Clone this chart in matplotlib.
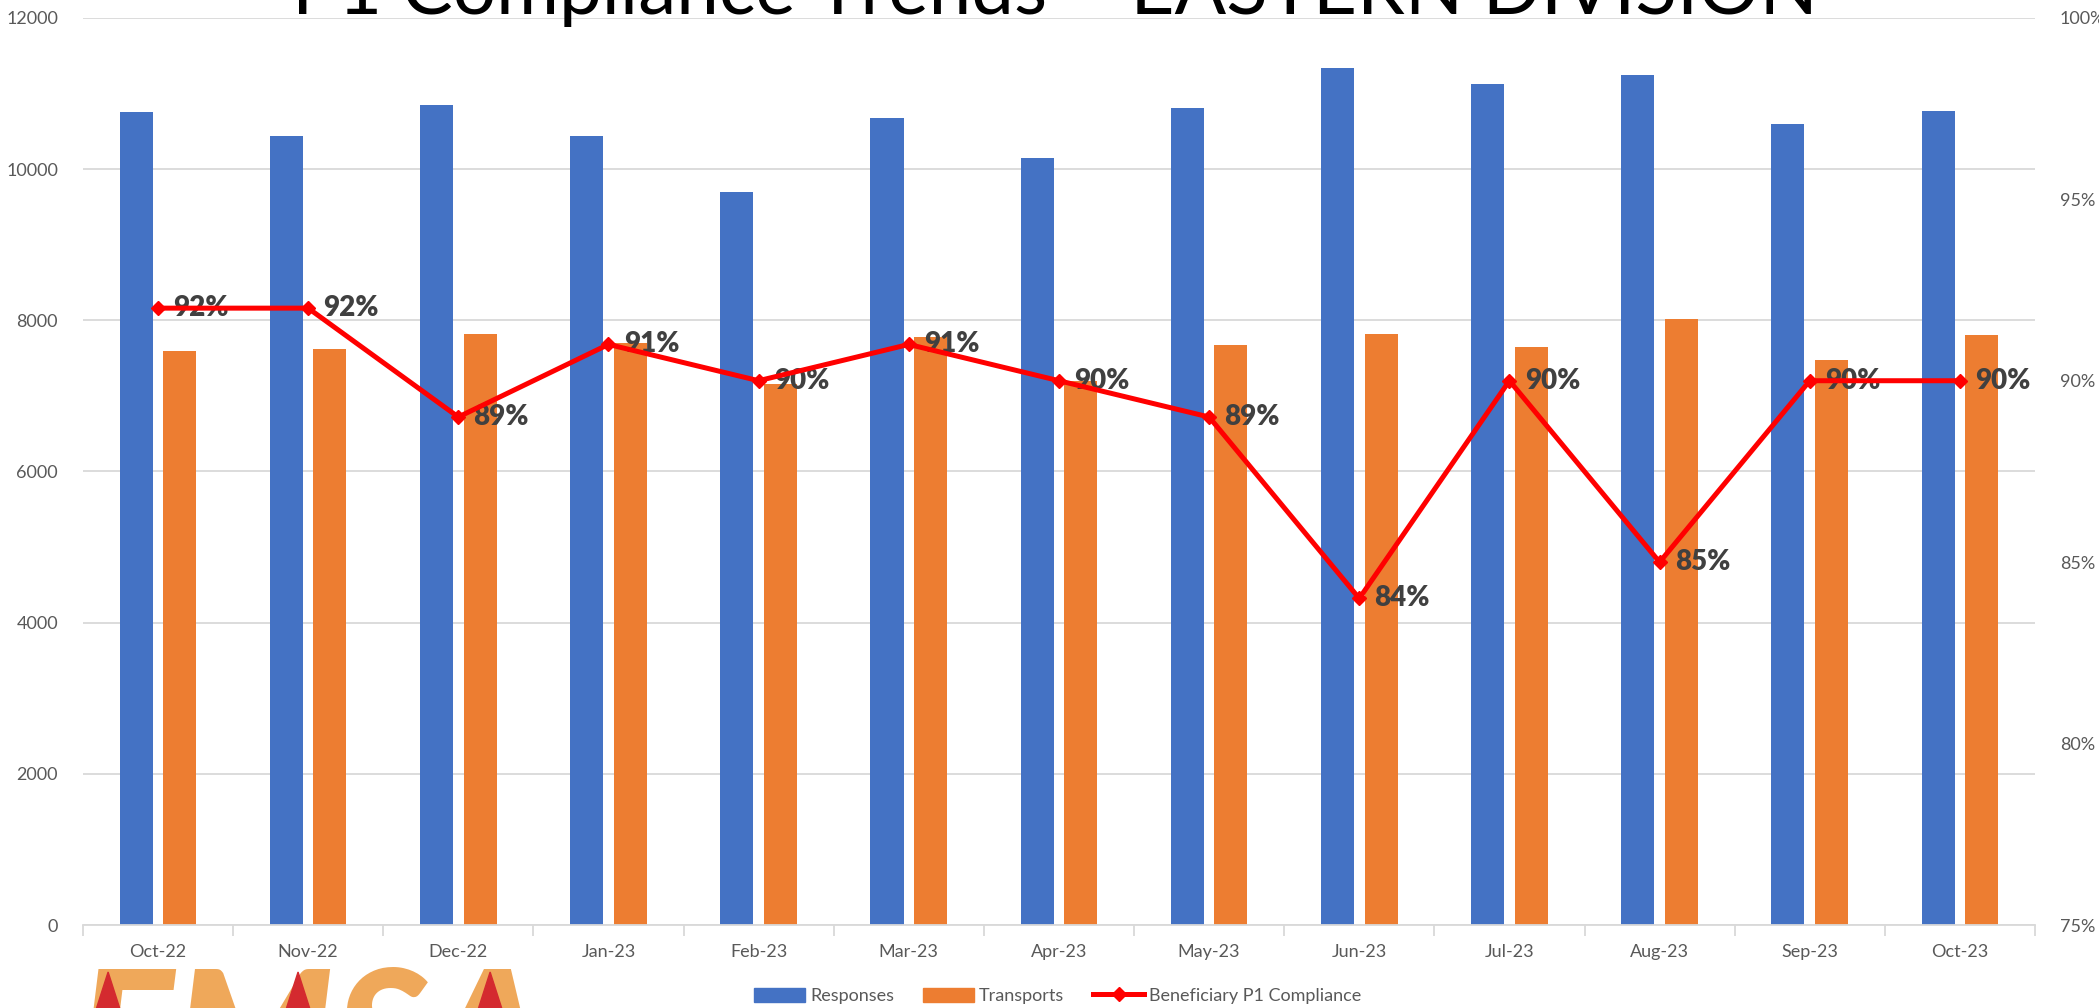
import matplotlib.pyplot as plt
import numpy as np
from matplotlib.patches import Polygon
from matplotlib.lines import Line2D
from matplotlib.patches import Patch

plt.rcParams['font.family'] = ['Lato', 'DejaVu Sans']

months = ['Oct-22', 'Nov-22', 'Dec-22', 'Jan-23', 'Feb-23', 'Mar-23', 'Apr-23',
          'May-23', 'Jun-23', 'Jul-23', 'Aug-23', 'Sep-23', 'Oct-23']
responses = [10760, 10440, 10850, 10440, 9690, 10670, 10140,
             10810, 11340, 11130, 11250, 10600, 10770]
transports = [7590, 7620, 7820, 7700, 7160, 7780, 7200,
              7670, 7820, 7640, 8010, 7480, 7810]
compliance = [92, 92, 89, 91, 90, 91, 90, 89, 84, 90, 85, 90, 90]

blue = '#4472C4'
orange = '#ED7D31'
red = '#FF0000'
grey_txt = '#595959'

fig = plt.figure(figsize=(20.99, 10.08), dpi=100)
ax = fig.add_axes([0.0395, 0.0823, 0.93, 0.9])
ax2 = ax.twinx()

x = np.arange(len(months))
w = 0.22
ax.bar(x - 0.145, responses, w, color=blue, zorder=2)
ax.bar(x + 0.145, transports, w, color=orange, zorder=2)

ax.set_ylim(0, 12000)
ax.set_xlim(-0.5, len(months) - 0.5)
ax.set_yticks(np.arange(0, 12001, 2000))
ax.grid(axis='y', color='#d9d9d9', lw=1.3, zorder=0)
ax.set_axisbelow(True)
ax.set_xticks(x)
ax.set_xticklabels(months)
ax.set_xticks(np.arange(-0.5, len(months)), minor=True)
ax.tick_params(axis='x', which='major', length=0, pad=14, labelsize=13, labelcolor=grey_txt)
ax.tick_params(axis='x', which='minor', length=8, color='#d9d9d9', width=1.3)
ax.tick_params(axis='y', length=0, pad=18, labelsize=13, labelcolor=grey_txt)
for s in ['top', 'left', 'right']:
    ax.spines[s].set_visible(False)
ax.spines['bottom'].set_color('#d9d9d9')
ax.spines['bottom'].set_linewidth(1.3)

ax2.plot(x, compliance, color=red, lw=3.6, marker='D', markersize=7, zorder=5)
ax2.set_ylim(75, 100)
ax2.set_yticks(np.arange(75, 101, 5))
ax2.set_yticklabels([f'{v}%' for v in range(75, 101, 5)])
ax2.tick_params(axis='y', length=0, pad=18, labelsize=13, labelcolor=grey_txt)
for s in ['top', 'left', 'right', 'bottom']:
    ax2.spines[s].set_visible(False)
for xi, c in zip(x, compliance):
    ax2.annotate(f'{c}%', (xi, c), xytext=(11, 0), textcoords='offset points',
                 ha='left', va='center', fontsize=20, fontweight='heavy', color='#404040')

fig.text(0.5025, 0.986, 'P1 Compliance Trends \u2013 EASTERN DIVISION', ha='center',
         va='baseline', fontsize=55, fontweight='normal', color='black')

handles = [Patch(color=blue), Patch(color=orange),
           Line2D([0], [0], color=red, lw=3.6, marker='D', markersize=7)]
fig.legend(handles, ['Responses', 'Transports', 'Beneficiary P1 Compliance'],
           loc='center', bbox_to_anchor=(0.504, 0.012), ncol=3, frameon=False,
           fontsize=13, labelcolor=grey_txt, handlelength=2.8, handleheight=0.8,
           handletextpad=0.3, columnspacing=1.6)

# logo at bottom left, cut off by the figure edge
fig.text(0.036, -0.092, 'EMSA', fontsize=131, fontweight='black', color='#EFA85A',
         ha='left', va='baseline', fontstyle='italic', zorder=3)
for lx in [0.0515, 0.142, 0.2335]:
    fig.patches.append(Polygon([[lx - 0.0055, 0.0], [lx, 0.0357], [lx + 0.0055, 0.0]],
                               closed=True, color='#D42A2F', transform=fig.transFigure,
                               zorder=6))

fig.savefig('out.png', dpi=100)
